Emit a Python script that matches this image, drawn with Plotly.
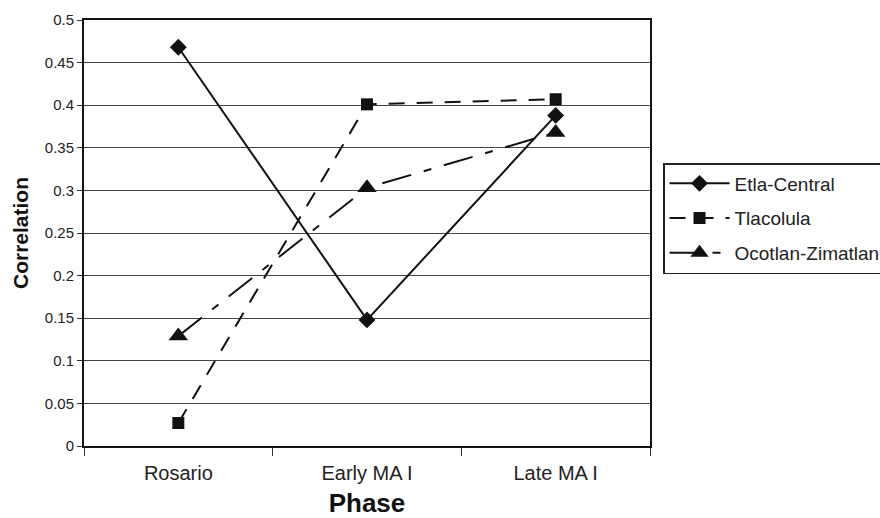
import plotly.graph_objects as go

phases = ["Rosario", "Early MA I", "Late MA I"]
etla = [0.468, 0.148, 0.388]
tlacolula = [0.027, 0.401, 0.407]
ocotlan = [0.129, 0.303, 0.368]
y_ticks = [0, 0.05, 0.1, 0.15, 0.2, 0.25, 0.3, 0.35, 0.4, 0.45, 0.5]
y_labels = ["0", "0.05", "0.1", "0.15", "0.2", "0.25", "0.3", "0.35", "0.4", "0.45", "0.5"]

fig = go.Figure()
fig.add_trace(go.Scatter(x=phases, y=etla, name="Etla-Central", mode="lines+markers",
                         legendgroup="a",
                         line=dict(color="#111111", width=2),
                         marker=dict(symbol="diamond", size=13, color="#111111")))
fig.add_trace(go.Scatter(x=phases, y=tlacolula, name="Tlacolula", mode="lines+markers",
                         legendgroup="b",
                         line=dict(color="#111111", width=2, dash="16px,12px"),
                         marker=dict(symbol="square", size=12, color="#111111")))
fig.add_trace(go.Scatter(x=phases, y=ocotlan, name="Ocotlan-Zimatlan", mode="lines+markers",
                         legendgroup="c",
                         line=dict(color="#111111", width=2, dash="30px,13px,8px,13px"),
                         marker=dict(symbol="triangle-up", size=17, color="#111111")))

fig.update_layout(
    width=880, height=518,
    margin=dict(l=84, r=230, t=20, b=72, autoexpand=False),
    paper_bgcolor="white", plot_bgcolor="white",
    font=dict(family="Liberation Sans, Arial, sans-serif", size=16, color="#222222"),
    showlegend=True,
    legend=dict(x=1.023, y=0.534, xanchor="left", yanchor="middle",
                bordercolor="#222222", borderwidth=1.5, bgcolor="white",
                font=dict(size=19), tracegroupgap=7, itemwidth=60),
    xaxis=dict(type="category", range=[-0.5, 2.5], showline=True, linecolor="#111111",
               linewidth=2, mirror=True, ticks="outside", tickson="boundaries",
               ticklen=8, tickcolor="#333333", showgrid=False,
               ticklabelstandoff=8, automargin=False,
               title=dict(text="<b>Phase</b>", font=dict(size=26, color="#111111"), standoff=12),
               tickfont=dict(size=20)),
    yaxis=dict(range=[0, 0.5], tickvals=y_ticks, ticktext=y_labels, showline=True,
               linecolor="#111111", linewidth=2, mirror=True, ticks="outside", ticklen=5,
               tickcolor="#333333", showgrid=True, gridcolor="#444444", gridwidth=1,
               zeroline=False, automargin=False,
               title=dict(text="<b>Correlation</b>", font=dict(size=21, color="#111111"), standoff=10),
               tickfont=dict(size=15)),
)

fig.write_html("out.html")
